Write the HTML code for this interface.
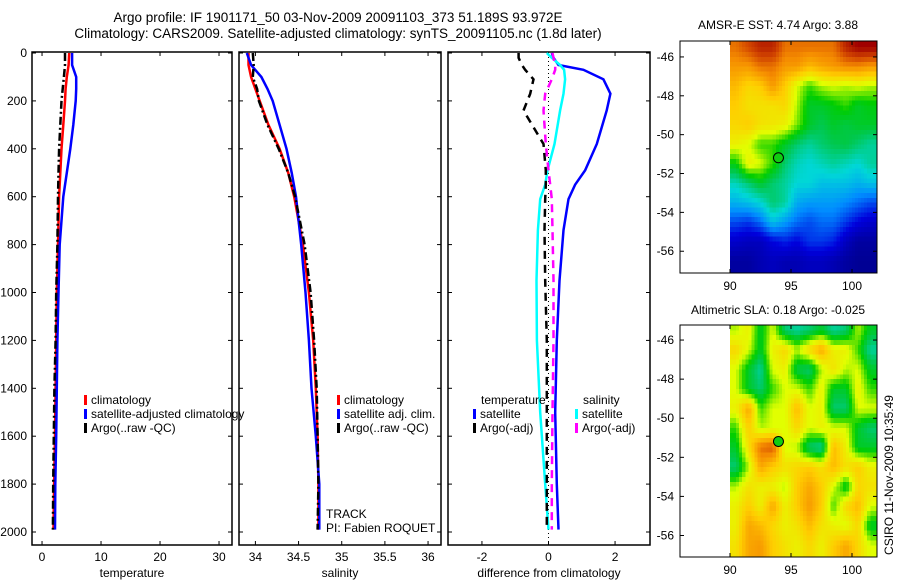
<!DOCTYPE html>
<html><head><meta charset="utf-8"><style>
html,body{margin:0;padding:0;background:#fff;}
svg{display:block;font-family:"Liberation Sans",sans-serif;}
</style></head><body>
<svg id="fig" width="900" height="580" viewBox="0 0 900 580">
<text x="338" y="22" text-anchor="middle" font-size="13.5">Argo profile: IF 1901171_50 03-Nov-2009 20091103_373 51.189S 93.972E</text>
<text x="338" y="38" text-anchor="middle" font-size="13.5">Climatology: CARS2009. Satellite-adjusted climatology: synTS_20091105.nc (1.8d later)</text>
<text x="778" y="29" text-anchor="middle" font-size="12">AMSR-E SST: 4.74 Argo: 3.88</text>
<text x="778" y="314" text-anchor="middle" font-size="12">Altimetric SLA: 0.18 Argo: -0.025</text>
<text x="0" y="0" transform="translate(893,475) rotate(-90)" text-anchor="middle" font-size="12">CSIRO 11-Nov-2009 10:35:49</text>
<g id="g"></g>
</svg>
<script>
// ---- profile data ----
const depthTS = [0,50,100,150,200,300,400,500,600,800,1000,1200,1400,1600,1800,1990];
const tempClim = [4.6,4.5,4.2,4.0,3.9,3.6,3.3,3.1,2.9,2.7,2.5,2.4,2.3,2.2,2.05,1.95];
const tempSat = [5.1,5.1,5.8,5.8,5.7,5.3,4.8,4.2,3.6,3.0,2.8,2.6,2.5,2.4,2.25,2.2];
const tempArgo = [3.9,3.9,3.7,3.5,3.3,3.1,2.9,2.8,2.7,2.6,2.4,2.3,2.1,2.0,1.9,1.85];
const salClim = [33.92,33.92,33.95,34.0,34.05,34.15,34.28,34.38,34.45,34.55,34.62,34.67,34.70,34.72,34.73,34.73];
const salSat = [33.9,33.95,34.07,34.14,34.2,34.28,34.36,34.42,34.47,34.53,34.58,34.62,34.65,34.7,34.74,34.74];
const salArgo = [33.97,33.98,33.97,34.02,34.04,34.14,34.27,34.38,34.46,34.57,34.64,34.68,34.71,34.72,34.73,34.72];
const depthDiff = [0,20,50,70,110,170,240,380,490,550,610,740,950,1200,1500,1800,1990];
const diffTempSat = [0.1,0.15,0.3,1.05,1.65,1.86,1.75,1.45,1.1,0.8,0.6,0.45,0.33,0.25,0.2,0.25,0.3];
const diffSalSat = [-0.05,0.1,0.35,0.47,0.5,0.45,0.35,0.18,-0.03,-0.1,-0.25,-0.32,-0.36,-0.35,-0.25,-0.1,0.0];
const diffTempArgo = [-0.9,-0.9,-0.8,-0.7,-0.45,-0.55,-0.75,-0.15,-0.08,-0.08,-0.1,-0.12,-0.1,-0.05,-0.05,-0.05,-0.05];
const diffSalArgo = [0.12,0.15,0.2,0.2,0.1,-0.1,-0.15,-0.08,0.0,0.05,0.1,0.12,0.15,0.15,0.12,0.1,0.1];
const depthTicks = [0,200,400,600,800,1000,1200,1400,1600,1800,2000];
const tempTicks = [0,10,20,30];
const salTicks = [34,34.5,35,35.5,36];
const diffTicks = [-2,0,2];
// ---- map data (rows lat -45.5..-56.5, cols lon 90.5..101.5), normalized 0..1 ----
const mapLats = [-45.5,-46.5,-47.5,-48.5,-49.5,-50.5,-51.5,-52.5,-53.5,-54.5,-55.5,-56.5];
const mapLons = [90.5,91.5,92.5,93.5,94.5,95.5,96.5,97.5,98.5,99.5,100.5,101.5];
const sstGrid = [
[0.85,0.9,0.95,0.95,0.85,0.85,0.85,0.85,0.85,0.95,1,1],
[0.8,0.8,0.85,0.85,0.8,0.8,0.75,0.78,0.8,0.82,0.82,0.8],
[0.75,0.7,0.72,0.8,0.72,0.62,0.55,0.6,0.62,0.6,0.62,0.6],
[0.72,0.68,0.68,0.68,0.7,0.6,0.5,0.5,0.52,0.55,0.5,0.52],
[0.7,0.72,0.68,0.67,0.65,0.58,0.5,0.47,0.5,0.48,0.5,0.5],
[0.65,0.62,0.55,0.55,0.5,0.45,0.42,0.45,0.47,0.48,0.45,0.42],
[0.52,0.65,0.62,0.55,0.45,0.4,0.38,0.4,0.42,0.4,0.38,0.42],
[0.4,0.45,0.5,0.45,0.42,0.38,0.38,0.35,0.35,0.35,0.33,0.35],
[0.33,0.35,0.38,0.45,0.42,0.32,0.3,0.3,0.3,0.28,0.25,0.22],
[0.22,0.2,0.25,0.35,0.3,0.25,0.22,0.25,0.25,0.2,0.15,0.12],
[0.12,0.1,0.1,0.15,0.18,0.15,0.2,0.2,0.18,0.1,0.05,0.05],
[0.05,0.05,0.08,0.1,0.08,0.08,0.1,0.1,0.08,0.05,0.03,0.03]];
const slaGrid = [
[0.6,0.65,0.5,0.62,0.45,0.42,0.45,0.5,0.42,0.45,0.6,0.5],
[0.7,0.62,0.5,0.65,0.7,0.6,0.7,0.78,0.65,0.65,0.55,0.42],
[0.62,0.5,0.42,0.62,0.65,0.48,0.45,0.6,0.68,0.6,0.62,0.5],
[0.62,0.5,0.45,0.55,0.62,0.62,0.55,0.65,0.5,0.5,0.65,0.55],
[0.65,0.78,0.55,0.62,0.62,0.75,0.62,0.65,0.45,0.45,0.62,0.62],
[0.55,0.72,0.6,0.62,0.62,0.7,0.62,0.65,0.62,0.62,0.5,0.45],
[0.5,0.68,0.85,0.88,0.62,0.6,0.45,0.42,0.75,0.65,0.5,0.5],
[0.45,0.6,0.78,0.72,0.68,0.7,0.72,0.68,0.75,0.68,0.72,0.65],
[0.6,0.68,0.65,0.65,0.6,0.72,0.78,0.72,0.62,0.5,0.7,0.68],
[0.65,0.72,0.65,0.78,0.65,0.72,0.8,0.72,0.55,0.7,0.75,0.62],
[0.65,0.78,0.75,0.7,0.65,0.68,0.75,0.68,0.65,0.62,0.7,0.5],
[0.68,0.78,0.8,0.72,0.68,0.65,0.7,0.65,0.72,0.78,0.7,0.62]];
const latTicks = [-46,-48,-50,-52,-54,-56];
const lonTicks = [90,95,100];
const argoLon = 93.972, argoLat = -51.189;

const NS = "http://www.w3.org/2000/svg";
const G = document.getElementById('g');
function mk(tag, attrs, parent){
  const e = document.createElementNS(NS, tag);
  for (const k in attrs) e.setAttribute(k, attrs[k]);
  (parent||G).appendChild(e); return e;
}
const yTop = 53, yBot = 532;
function yD(d){ return yTop + (d/2000)*(yBot-yTop); }

function panel(name, x0, x1, xmin, xmax, ticks, label, showY){
  const sx = v => x0 + (v-xmin)/(xmax-xmin)*(x1-x0);
  const box = mk('rect',{x:x0,y:yTop-1,width:x1-x0,height:545-yTop+1,fill:'none',stroke:'#000','stroke-width':1.5});
  
  
  depthTicks.forEach(d=>{
    mk('line',{x1:x0,x2:x0+4,y1:yD(d),y2:yD(d),stroke:'#000'});
    mk('line',{x1:x1,x2:x1-4,y1:yD(d),y2:yD(d),stroke:'#000'});
    if(showY){
      const t = mk('text',{x:x0-5,y:yD(d)+4,'text-anchor':'end','font-size':12});
      t.textContent = d;
      
      
    }
  });
  ticks.forEach(v=>{
    mk('line',{x1:sx(v),x2:sx(v),y1:545,y2:541,stroke:'#000'});
    mk('line',{x1:sx(v),x2:sx(v),y1:yTop-1,y2:yTop+3,stroke:'#000'});
    const t = mk('text',{x:sx(v),y:561,'text-anchor':'middle','font-size':12});
    t.textContent = v;
    
    
  });
  const l = mk('text',{x:(x0+x1)/2,y:577,'text-anchor':'middle','font-size':12});
  l.textContent = label;
  
  
  return sx;
}
function line(sx, depths, vals, color, dash, w, nm){
  const pts = depths.map((d,i)=>sx(vals[i]).toFixed(1)+','+yD(d).toFixed(1)).join(' ');
  const p = mk('polyline',{points:pts,fill:'none',stroke:color,'stroke-width':w||2.5,'stroke-dasharray':dash||'none'});
  
  
}
function leg(x, y, color, text, nm){
  mk('rect',{x:x,y:y-9,width:3,height:10,fill:color});
  const t = mk('text',{x:x+7,y:y,'font-size':12});
  t.textContent = text;
  
  
}

// Panel 1 temperature
const sT = panel('temperature', 32, 232, -1.7, 32.2, tempTicks, 'temperature', true);
line(sT, depthTS, tempClim, '#f00', null, 2.5, 'temp-climatology-line');
line(sT, depthTS, tempSat, '#00f', null, 2.5, 'temp-satellite-line');
line(sT, depthTS, tempArgo, '#000', '8,3,2,3', 2.5, 'temp-argo-line');
leg(84,404,'#f00','climatology','legend-climatology');
leg(84,418,'#00f','satellite-adjusted climatology','legend-satellite-adjusted');
leg(84,432,'#000','Argo(..raw -QC)','legend-argo');

// Panel 2 salinity
const sS = panel('salinity', 239, 441, 33.81, 36.15, salTicks, 'salinity', false);
line(sS, depthTS, salClim, '#f00', null, 2.5, 'sal-climatology-line');
line(sS, depthTS, salSat, '#00f', null, 2.5, 'sal-satellite-line');
line(sS, depthTS, salArgo, '#000', '8,3,2,3', 2.5, 'sal-argo-line');
leg(337,404,'#f00','climatology','legend2-climatology');
leg(337,418,'#00f','satellite adj. clim.','legend2-satellite');
leg(337,432,'#000','Argo(..raw -QC)','legend2-argo');
const t1 = mk('text',{x:326,y:518,'font-size':12}); t1.textContent='TRACK';
 
const t2 = mk('text',{x:326,y:532,'font-size':12}); t2.textContent='PI: Fabien ROQUET';
 

// Panel 3 difference
const sD = panel('difference', 448, 650, -3.02, 3.05, diffTicks, 'difference from climatology', false);
mk('line',{x1:sD(0),x2:sD(0),y1:yTop,y2:545,stroke:'#000','stroke-dasharray':'1,3'});
line(sD, depthDiff, diffTempSat, '#00f', null, 2.5, 'diff-temp-satellite-line');
line(sD, depthDiff, diffSalSat, '#0ff', null, 2.5, 'diff-sal-satellite-line');
line(sD, depthDiff, diffTempArgo, '#000', '8,6', 2.5, 'diff-temp-argo-line');
line(sD, depthDiff, diffSalArgo, '#f0f', '8,6', 2.5, 'diff-sal-argo-line');
const lt = mk('text',{x:481,y:404,'font-size':12}); lt.textContent='temperature';
 
const ls = mk('text',{x:583,y:404,'font-size':12}); ls.textContent='salinity';
 
leg(473,418,'#00f','satellite','legend3-temp-satellite');
leg(473,432,'#000','Argo(-adj)','legend3-temp-argo');
leg(575,418,'#0ff','satellite','legend3-sal-satellite');
leg(575,432,'#f0f','Argo(-adj)','legend3-sal-argo');

// Maps
const cmapStops = [[0,0,0,130],[0.15,0,0,220],[0.28,0,140,255],[0.38,0,215,215],[0.47,0,200,80],[0.53,0,205,0],[0.62,225,255,0],[0.72,255,205,0],[0.82,245,140,0],[0.9,210,70,0],[1,160,0,0]];
function cmap(v){
  v = Math.max(0, Math.min(1, v));
  for (let i=1;i<cmapStops.length;i++){
    const a=cmapStops[i-1], b=cmapStops[i];
    if (v<=b[0]){ const t=(v-a[0])/(b[0]-a[0]);
      return 'rgb('+[1,2,3].map(k=>Math.round(a[k]+t*(b[k]-a[k]))).join(',')+')'; }
  }
  return 'rgb(160,0,0)';
}
function sample(grid, lo, la){
  // bilinear interpolation between cell centers
  let fi = (-45.5 - la), fj = (lo - 90.5);
  fi = Math.max(0, Math.min(mapLats.length-1, fi));
  fj = Math.max(0, Math.min(mapLons.length-1, fj));
  const i0=Math.floor(fi), j0=Math.floor(fj);
  const i1=Math.min(i0+1,mapLats.length-1), j1=Math.min(j0+1,mapLons.length-1);
  const ti=fi-i0, tj=fj-j0;
  return (grid[i0][j0]*(1-tj)+grid[i0][j1]*tj)*(1-ti)+(grid[i1][j0]*(1-tj)+grid[i1][j1]*tj)*ti;
}
function map(name, grid, yT, yB, latTop, latBot){
  const x0 = 680, x1 = 877, lonMin = 85.9, lonMax = 102.05;
  const sx = v => x0 + (v-lonMin)/(lonMax-lonMin)*(x1-x0);
  const sy = v => yT + (latTop - v)/(latTop-latBot)*(yB-yT);
  const cid = 'clip-'+name;
  const cp = mk('clipPath',{id:cid}); mk('rect',{x:x0,y:yT,width:x1-x0,height:yB-yT},cp);
  const gg = mk('g',{'clip-path':'url(#'+cid+')','shape-rendering':'crispEdges'});
  
  
  const step = 0.25;
  for (let la=-45; la>-57.2; la-=step){
    for (let lo=90; lo<102.2; lo+=step){
      const v = sample(grid, lo+step/2, la-step/2);
      mk('rect',{x:sx(lo).toFixed(1),y:sy(la).toFixed(1),width:(sx(lo+step)-sx(lo)+0.6).toFixed(1),height:(sy(la-step)-sy(la)+0.6).toFixed(1),fill:cmap(v)},gg);
    }
  }
  const b = mk('rect',{x:x0,y:yT,width:x1-x0,height:yB-yT,fill:'none',stroke:'#000'});
  
  
  latTicks.forEach(v=>{
    mk('line',{x1:x0,x2:x0+4,y1:sy(v),y2:sy(v),stroke:'#000'});
    mk('line',{x1:x1,x2:x1-4,y1:sy(v),y2:sy(v),stroke:'#000'});
    const t = mk('text',{x:x0-6,y:sy(v)+4,'text-anchor':'end','font-size':12}); t.textContent=v;
     
  });
  lonTicks.forEach(v=>{
    mk('line',{x1:sx(v),x2:sx(v),y1:yB,y2:yB-4,stroke:'#000'});
    mk('line',{x1:sx(v),x2:sx(v),y1:yT,y2:yT+4,stroke:'#000'});
    const t = mk('text',{x:sx(v),y:yB+17,'text-anchor':'middle','font-size':12}); t.textContent=v;
     
  });
  const m = mk('circle',{cx:sx(argoLon),cy:sy(argoLat),r:5,fill:'#1c1',stroke:'#000','stroke-width':1});
  
  
}
map('sst-map', sstGrid, 41, 273, -45.18, -57.12);
map('sla-map', slaGrid, 325, 557, -45.23, -57.1);
</script>
</body></html>
